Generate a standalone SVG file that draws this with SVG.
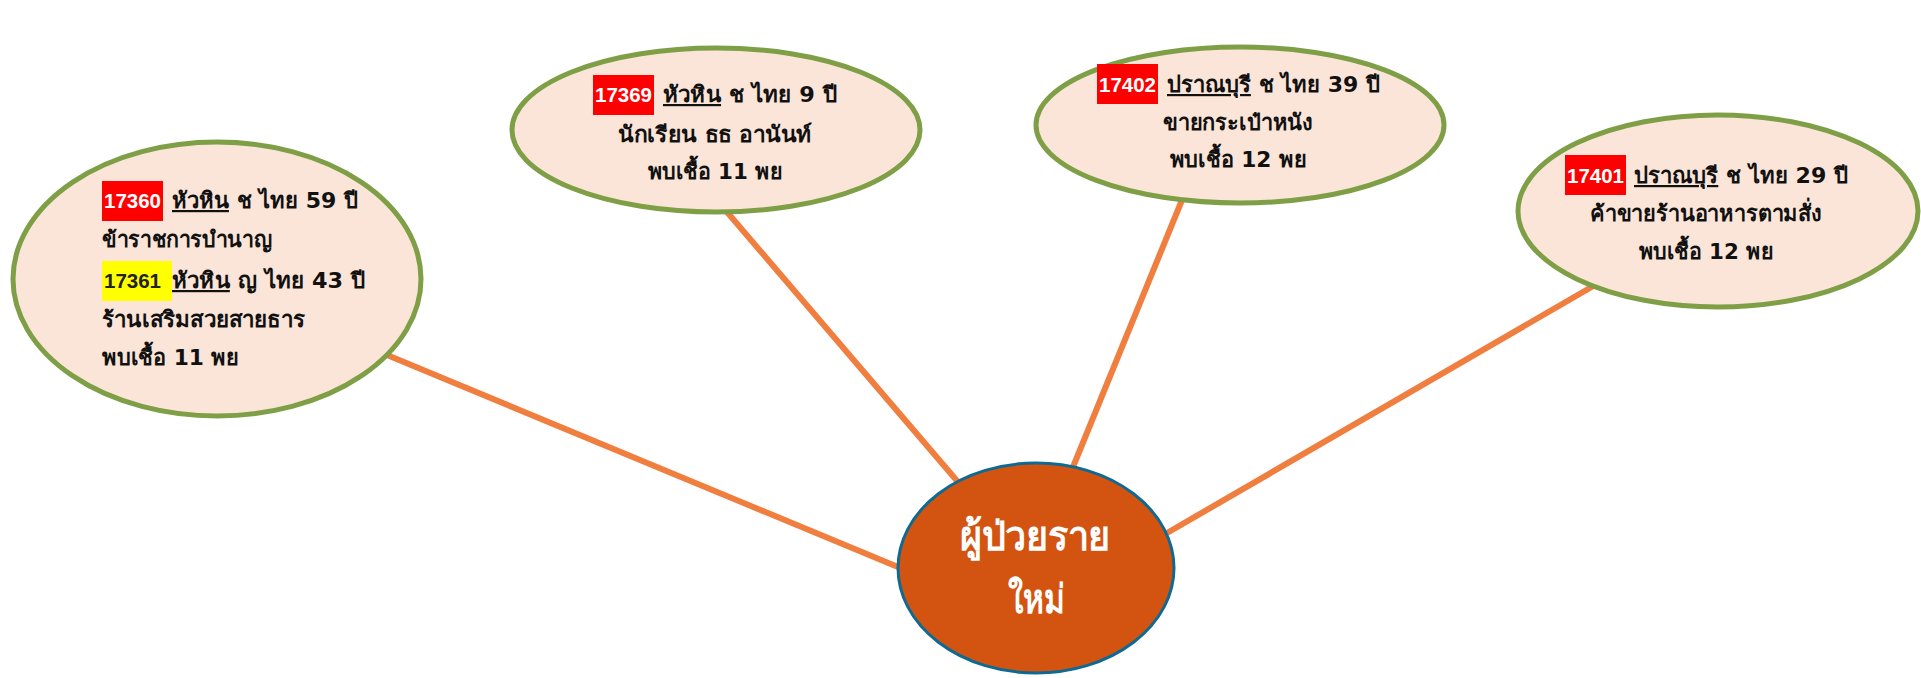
<svg xmlns="http://www.w3.org/2000/svg" width="1921" height="678" viewBox="0 0 1921 678">
<style>
.conn{stroke:#F07E3F;stroke-width:6;fill:none}
.bub{fill:#FBE5D8;stroke:#7F9F46;stroke-width:5}
.t{font-family:"DejaVu Sans","Noto Sans",sans-serif;font-weight:bold;font-size:22px;fill:#111}
.n{font-family:"Liberation Sans",Arial,sans-serif;font-weight:bold;font-size:19.5px}
.num{fill:#fff}
.numd{fill:#222}
.u{text-decoration:underline}
.c{text-anchor:middle}
.red{fill:#FF0000}
.yel{fill:#FFFF00}
.ct{font-family:"DejaVu Sans","Noto Sans",sans-serif;font-weight:bold;font-size:40px;fill:#fff;text-anchor:middle}
</style>
<rect width="1921" height="678" fill="#fff"/>
<g id="connectors">
<line class="conn" x1="387" y1="355" x2="898" y2="567"/>
<line class="conn" x1="727" y1="212" x2="958" y2="482"/>
<line class="conn" x1="1182" y1="200" x2="1073" y2="467"/>
<line class="conn" x1="1595" y1="285" x2="1167" y2="533"/>
</g>
<g id="node-left">
<ellipse class="bub" cx="217" cy="279" rx="204" ry="137"/>
<rect class="red" x="102" y="181" width="61" height="40"/>
<text class="n num" x="104" y="208" textLength="57" lengthAdjust="spacingAndGlyphs">17360</text>
<text class="t" x="172" y="208" textLength="186" lengthAdjust="spacingAndGlyphs"><tspan class="u">หัวหิน</tspan> ช ไทย 59 ปี</text>
<text class="t" x="102" y="247" textLength="170" lengthAdjust="spacingAndGlyphs">ข้าราชการบำนาญ</text>
<rect class="yel" x="102" y="261" width="70" height="40"/>
<text class="n numd" x="104" y="288" textLength="57" lengthAdjust="spacingAndGlyphs">17361</text>
<text class="t" x="172" y="288" textLength="193" lengthAdjust="spacingAndGlyphs"><tspan class="u">หัวหิน</tspan> ญ ไทย 43 ปี</text>
<text class="t" x="102" y="327" textLength="203" lengthAdjust="spacingAndGlyphs">ร้านเสริมสวยสายธาร</text>
<text class="t" x="102" y="365" textLength="137" lengthAdjust="spacingAndGlyphs">พบเชื้อ 11 พย</text>
</g>
<g id="node-top-middle">
<ellipse class="bub" cx="716" cy="130" rx="204" ry="82"/>
<rect class="red" x="593" y="75" width="61" height="40"/>
<text class="n num" x="595" y="102" textLength="57" lengthAdjust="spacingAndGlyphs">17369</text>
<text class="t" x="663" y="102" textLength="174" lengthAdjust="spacingAndGlyphs"><tspan class="u">หัวหิน</tspan> ช ไทย 9 ปี</text>
<text class="t c" x="715" y="142" textLength="194" lengthAdjust="spacingAndGlyphs">นักเรียน ธธ อานันท์</text>
<text class="t c" x="715" y="179" textLength="135" lengthAdjust="spacingAndGlyphs">พบเชื้อ 11 พย</text>
</g>
<g id="node-top-right">
<ellipse class="bub" cx="1240" cy="125" rx="204" ry="78"/>
<rect class="red" x="1097" y="64" width="61" height="40"/>
<text class="n num" x="1099" y="92" textLength="57" lengthAdjust="spacingAndGlyphs">17402</text>
<text class="t" x="1167" y="92" textLength="213" lengthAdjust="spacingAndGlyphs"><tspan class="u">ปราณบุรี</tspan> ช ไทย 39 ปี</text>
<text class="t c" x="1238" y="130" textLength="150" lengthAdjust="spacingAndGlyphs">ขายกระเป๋าหนัง</text>
<text class="t c" x="1238" y="167" textLength="137" lengthAdjust="spacingAndGlyphs">พบเชื้อ 12 พย</text>
</g>
<g id="node-right">
<ellipse class="bub" cx="1718" cy="211" rx="200" ry="96"/>
<rect class="red" x="1565" y="155" width="61" height="40"/>
<text class="n num" x="1567" y="183" textLength="57" lengthAdjust="spacingAndGlyphs">17401</text>
<text class="t" x="1634" y="183" textLength="214" lengthAdjust="spacingAndGlyphs"><tspan class="u">ปราณบุรี</tspan> ช ไทย 29 ปี</text>
<text class="t c" x="1706" y="221" textLength="232" lengthAdjust="spacingAndGlyphs">ค้าขายร้านอาหารตามสั่ง</text>
<text class="t c" x="1706" y="259" textLength="135" lengthAdjust="spacingAndGlyphs">พบเชื้อ 12 พย</text>
</g>
<g id="node-center">
<ellipse cx="1036" cy="568" rx="138" ry="105" fill="#D35411" stroke="#0E6A92" stroke-width="3"/>
<text class="ct" x="1035" y="550" textLength="150" lengthAdjust="spacingAndGlyphs">ผู้ป่วยราย</text>
<text class="ct" x="1036" y="613" textLength="57" lengthAdjust="spacingAndGlyphs">ใหม่</text>
</g>
</svg>
